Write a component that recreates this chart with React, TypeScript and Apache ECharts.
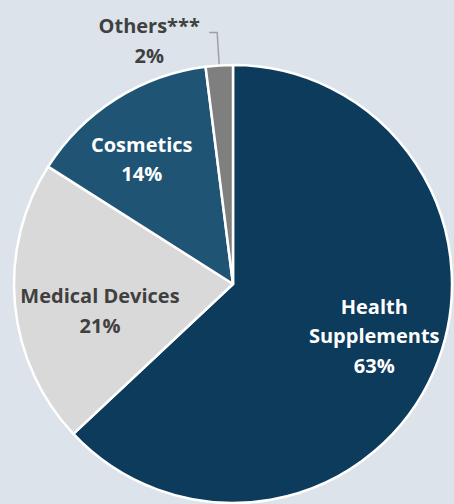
import React, { useEffect, useRef } from "react";
import * as echarts from "echarts";

const categories = ["Health\nSupplements", "Medical Devices", "Cosmetics", "Others***"];
const values = [63, 21, 14, 2];
const colors = ["#0c3b5c", "#d9d9d9", "#1f5475", "#7f7f7f"];
const textColors = ["#ffffff", "#404040", "#ffffff", "#404040"];
const labelShift = [
  [38, 7],
  [-21, 16],
  [-31, -30],
  [0, 0],
];
const FONT = "Open Sans";
const FSIZE = 20;

export default function App() {
  const ref = useRef<HTMLDivElement>(null);
  useEffect(() => {
    if (!ref.current) return;
    const chart = echarts.init(ref.current, null, { renderer: "svg" });
    const data = categories.map((name, i) => {
      const isOut = i === 3;
      return {
        name,
        value: values[i],
        itemStyle: { color: colors[i] },
        label: isOut
          ? {
              position: "outside",
              formatter: (p: any) => `{a|${p.name}}\n{a|${p.value}%}`,
              padding: [16, 0, 0, 0],
              distanceToLabelLine: 4,
              rich: {
                a: {
                  width: 112,
                  align: "center",
                  fontFamily: FONT,
                  fontWeight: "bold",
                  fontSize: FSIZE,
                  lineHeight: 30,
                  color: textColors[i],
                },
              },
            }
          : {
              position: "inside",
              formatter: (p: any) => `${p.name}\n${p.value}%`,
              color: textColors[i],
              fontFamily: FONT,
              fontWeight: "bold",
              fontSize: FSIZE,
              lineHeight: 29.5,
              align: "center",
            },
        labelLine: isOut
          ? { show: true, length: 33, length2: 8, lineStyle: { color: "#a0a0a0", width: 1.5 } }
          : { show: false },
      };
    });
    chart.setOption({
      animation: false,
      backgroundColor: "#dce3ea",
      series: [
        {
          type: "pie",
          center: [233, 284],
          radius: 219,
          startAngle: 90,
          clockwise: true,
          avoidLabelOverlap: false,
          itemStyle: { borderColor: "#ffffff", borderWidth: 2.5 },
          emphasis: { disabled: true },
          labelLayout: (params: any) => {
            const s = labelShift[params.dataIndex] || [0, 0];
            return { dx: s[0], dy: s[1] };
          },
          data,
        },
      ],
    });
    return () => chart.dispose();
  }, []);
  return (
    <div
      ref={ref}
      style={{ position: "fixed", left: 0, top: 0, width: 454, height: 504 }}
    />
  );
}
